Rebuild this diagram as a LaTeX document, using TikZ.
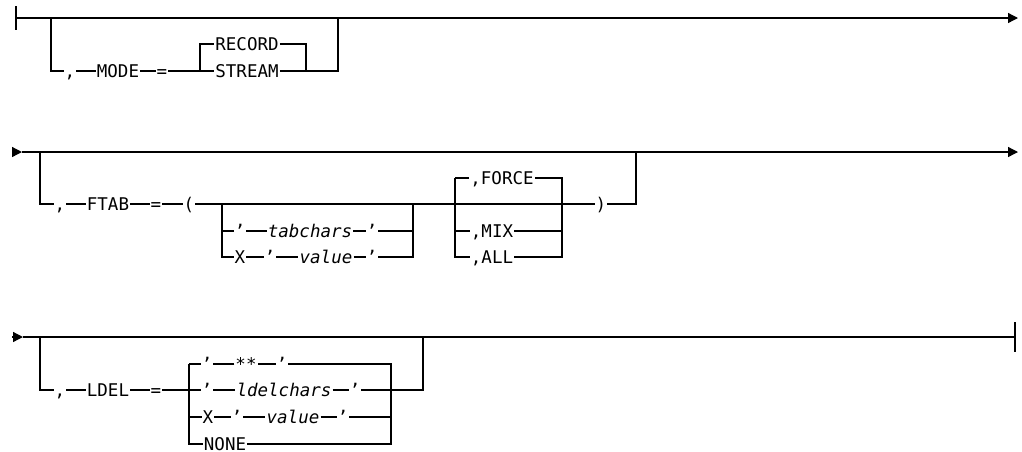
\documentclass[tikz,border=0pt]{standalone}
\usepackage{fontspec}
\newfontfamily\synfont{DejaVu Sans Mono}
\usetikzlibrary{arrows.meta}

\begin{document}
\begin{tikzpicture}[
    x=1pt, y=-1pt,
    rail/.style={line width=1.3pt},
    tip/.style={rail, -{Triangle[length=10pt, width=10pt]}},
    tok/.style={font=\synfont\fontsize{17.5}{20}\selectfont, inner xsep=1pt, inner ysep=0pt,
                text height=12.7pt, text depth=0pt},
    var/.style={tok, font=\synfont\itshape\fontsize{17.5}{20}\selectfont}
]
    \useasboundingbox (0,0) rectangle (1022,451);

    % Line 1: MODE
    \coordinate (start1) at (16,18);
    \coordinate (bar1a)  at (16,6);
    \coordinate (bar1b)  at (16,30);
    \coordinate (end1)   at (1018,18);
    \draw[rail] (bar1a) -- (bar1b);
    \draw[tip]  (start1) -- (end1);

    \coordinate (m-in)   at (51,18);
    \coordinate (m-dn)   at (51,71);
    \node[tok] (m-comma) at (70,71)  {,};
    \node[tok] (m-key)   at (118,71) {MODE};
    \node[tok] (m-eq)    at (162,71) {=};
    \coordinate (m-ch)   at (200,71);
    \coordinate (m-chup) at (200,44);
    \node[tok] (m-rec)   at (247,44) {RECORD};
    \node[tok] (m-str)   at (247,71) {STREAM};
    \coordinate (m-jnup) at (306,44);
    \coordinate (m-jn)   at (306,71);
    \coordinate (m-out)  at (338,71);
    \coordinate (m-up)   at (338,18);

    \draw[rail] (m-in) -- (m-dn) -- (m-comma) -- (m-key) -- (m-eq) -- (m-ch) -- (m-str);
    \draw[rail] (m-ch) -- (m-chup) -- (m-rec);
    \draw[rail] (m-rec) -- (m-jnup) -- (m-jn);
    \draw[rail] (m-str) -- (m-jn) -- (m-out) -- (m-up);

    % Line 2: FTAB
    \coordinate (start2) at (12,152);
    \coordinate (ent2)   at (22,152);
    \coordinate (end2)   at (1018,152);
    \draw[tip] (start2) -- (ent2);
    \draw[tip] (ent2) -- (end2);

    \coordinate (f-in)   at (40,152);
    \coordinate (f-dn)   at (40,204);
    \node[tok] (f-comma) at (60,204)  {,};
    \node[tok] (f-key)   at (108,204) {FTAB};
    \node[tok] (f-eq)    at (156,204) {=};
    \node[tok] (f-par)   at (189,204) {(};
    \coordinate (f-a1)   at (222,204);
    \coordinate (f-a2)   at (222,231);
    \coordinate (f-a3)   at (222,257);
    \node[tok] (f-q1)    at (240,231) {’};
    \node[var] (f-tab)   at (310,231) {tabchars};
    \node[tok] (f-q2)    at (372,231) {’};
    \node[tok] (f-x)     at (240,257) {X};
    \node[tok] (f-q3)    at (270,257) {’};
    \node[var] (f-val)   at (326,257) {value};
    \node[tok] (f-q4)    at (372,257) {’};
    \coordinate (f-b1)   at (413,204);
    \coordinate (f-b2)   at (413,231);
    \coordinate (f-b3)   at (413,257);
    \coordinate (f-c0)   at (455,178);
    \coordinate (f-c1)   at (455,204);
    \coordinate (f-c2)   at (455,231);
    \coordinate (f-c3)   at (455,257);
    \node[tok] (f-force) at (502,178) {,FORCE};
    \node[tok] (f-mix)   at (492,231) {,MIX};
    \node[tok] (f-all)   at (492,257) {,ALL};
    \coordinate (f-d0)   at (562,178);
    \coordinate (f-d1)   at (562,204);
    \coordinate (f-d2)   at (562,231);
    \coordinate (f-d3)   at (562,257);
    \node[tok] (f-rpar)  at (601,204) {)};
    \coordinate (f-out)  at (636,204);
    \coordinate (f-up)   at (636,152);

    \draw[rail] (f-in) -- (f-dn) -- (f-comma) -- (f-key) -- (f-eq) -- (f-par) -- (f-a1) -- (f-c1) -- (f-d1) -- (f-rpar) -- (f-out) -- (f-up);
    \draw[rail] (f-a1) -- (f-a3) -- (f-x) -- (f-q3) -- (f-val) -- (f-q4) -- (f-b3) -- (f-b1);
    \draw[rail] (f-a2) -- (f-q1) -- (f-tab) -- (f-q2) -- (f-b2);
    \draw[rail] (f-c0) -- (f-c3) -- (f-all) -- (f-d3) -- (f-d0) -- (f-force) -- (f-c0);
    \draw[rail] (f-c2) -- (f-mix) -- (f-d2);

    % Line 3: LDEL
    \coordinate (start3) at (12,337);
    \coordinate (ent3)   at (23,337);
    \coordinate (end3)   at (1015,337);
    \coordinate (bar3a)  at (1015,322);
    \coordinate (bar3b)  at (1015,352);
    \draw[tip]  (start3) -- (ent3);
    \draw[rail] (ent3) -- (end3);
    \draw[rail] (bar3a) -- (bar3b);

    \coordinate (l-in)   at (40,337);
    \coordinate (l-dn)   at (40,390);
    \node[tok] (l-comma) at (60,390)  {,};
    \node[tok] (l-key)   at (108,390) {LDEL};
    \node[tok] (l-eq)    at (156,390) {=};
    \coordinate (l-a1)   at (189,364);
    \coordinate (l-a2)   at (189,390);
    \coordinate (l-a3)   at (189,417);
    \coordinate (l-a4)   at (189,444);
    \node[tok] (l-q1)    at (207,364) {’};
    \node[var] (l-star)  at (246,364) {**};
    \node[tok] (l-q2)    at (282,364) {’};
    \node[tok] (l-q3)    at (207,390) {’};
    \node[var] (l-chars) at (284,390) {ldelchars};
    \node[tok] (l-q4)    at (355,390) {’};
    \node[tok] (l-x)     at (208,417) {X};
    \node[tok] (l-q5)    at (237,417) {’};
    \node[var] (l-val)   at (293,417) {value};
    \node[tok] (l-q6)    at (343,417) {’};
    \node[tok] (l-none)  at (225,444) {NONE};
    \coordinate (l-b1)   at (391,364);
    \coordinate (l-b2)   at (391,390);
    \coordinate (l-b3)   at (391,417);
    \coordinate (l-b4)   at (391,444);
    \coordinate (l-out)  at (423,390);
    \coordinate (l-up)   at (423,337);
    \coordinate (l-st1)  at (428,337);
    \coordinate (l-st2)  at (448,337);

    \draw[rail] (l-in) -- (l-dn) -- (l-comma) -- (l-key) -- (l-eq) -- (l-a2) -- (l-q3) -- (l-chars) -- (l-q4) -- (l-b2) -- (l-out) -- (l-up);
    \draw[rail] (l-a1) -- (l-a4) -- (l-none) -- (l-b4) -- (l-b1) -- (l-q2) -- (l-star) -- (l-q1) -- (l-a1);
    \draw[rail] (l-a3) -- (l-x) -- (l-q5) -- (l-val) -- (l-q6) -- (l-b3);
    \draw[line width=2.4pt] (l-st1) -- (l-st2);

\end{tikzpicture}
\end{document}
